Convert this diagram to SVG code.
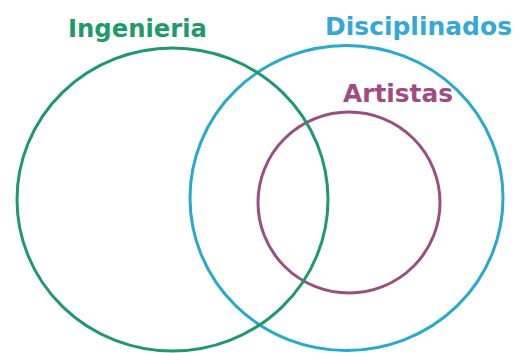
<svg xmlns="http://www.w3.org/2000/svg" width="519" height="353" viewBox="0 0 519 353">
<style>
.c{fill:none;stroke-width:3}
.t{font-family:"DejaVu Sans",Verdana,sans-serif;font-weight:bold;font-size:24px}
</style>
<rect width="519" height="353" fill="#ffffff"/>
<g id="artistas">
<ellipse class="c" cx="349" cy="202.5" rx="91" ry="90.5" stroke="#9a4f82"/>
<text class="t" x="343" y="102" fill="#a14a83" textLength="110" lengthAdjust="spacingAndGlyphs">Artistas</text>
</g>
<g id="disciplinados">
<ellipse class="c" cx="346.5" cy="198" rx="156.5" ry="152.5" stroke="#2aa9cf"/>
<text class="t" x="325" y="35" fill="#34a9d6" textLength="187" lengthAdjust="spacingAndGlyphs">Disciplinados</text>
</g>
<g id="ingenieria">
<ellipse class="c" cx="172.5" cy="199.5" rx="155.5" ry="151.5" stroke="#1e9870"/>
<text class="t" x="68" y="37" fill="#1f9a6c" textLength="139" lengthAdjust="spacingAndGlyphs">Ingenieria</text>
</g>
<g id="connectors"/>
</svg>
